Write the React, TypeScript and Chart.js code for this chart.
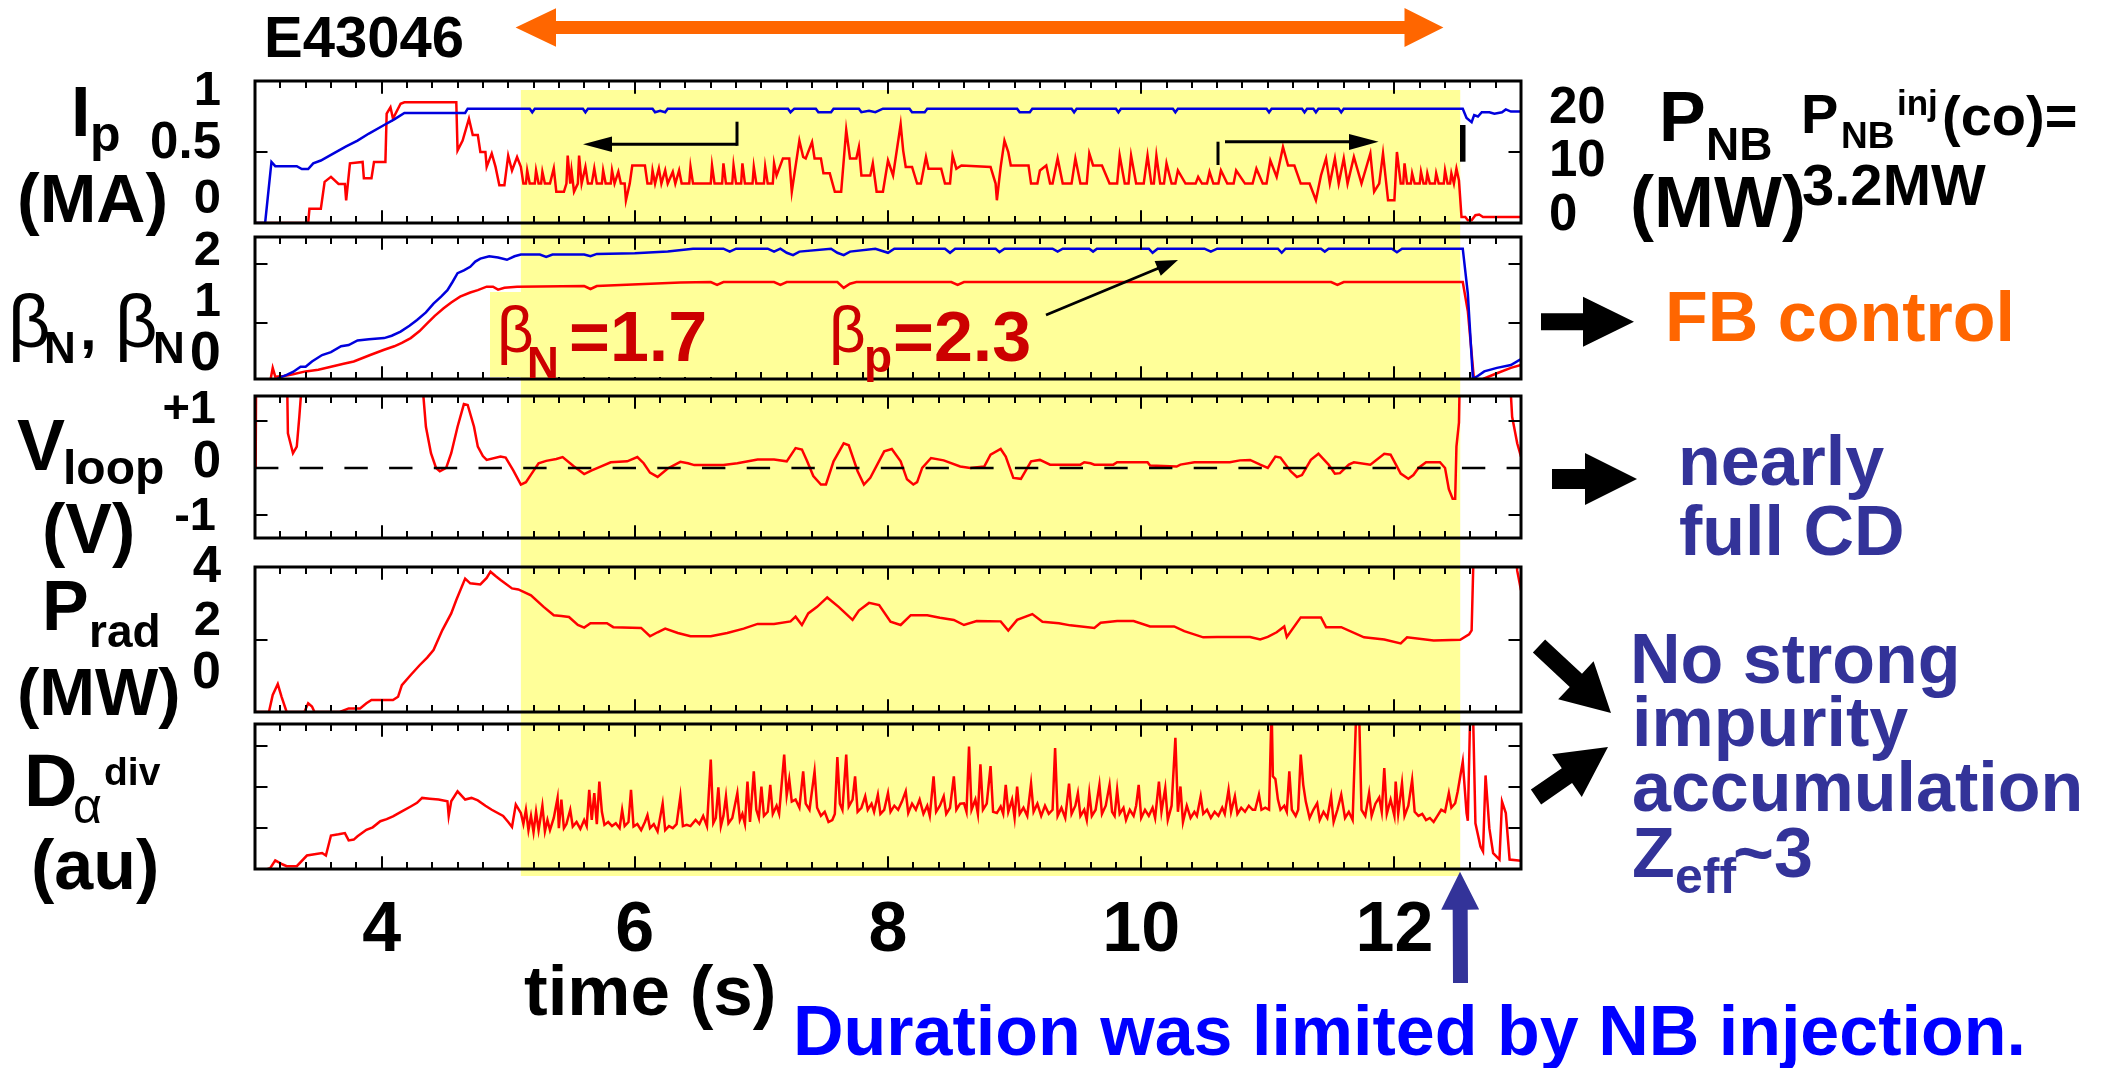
import React, { useEffect, useRef } from 'react';
import { Chart, registerables } from 'chart.js';
Chart.register(...registerables);

// ---------------- data ----------------
const T_MIN = 3;
const T_MAX = 13;
const X_TICK_LABELS = [4, 6, 8, 10, 12];
const NB_WINDOW = [5.1, 12.52]; // highlighted window (s)

// Ip (MA)
const IP_MA = [
  [3.0, 0], [3.08, 0], [3.13, 0.43], [3.16, 0.4], [3.33, 0.4], [3.37, 0.38], [3.42, 0.38], [3.46, 0.42], [3.52, 0.44],
  [3.6, 0.48], [3.66, 0.51], [3.72, 0.54], [3.81, 0.58], [3.9, 0.63], [4.02, 0.69], [4.1, 0.73], [4.18, 0.775],
  [4.66, 0.775], [4.68, 0.805], [5.17, 0.805], [5.19, 0.78], [5.21, 0.805], [5.59, 0.805], [5.61, 0.78], [5.63, 0.805],
  [6.14, 0.805], [6.16, 0.78], [6.2, 0.79], [6.24, 0.78], [6.26, 0.805], [7.21, 0.805], [7.23, 0.78], [7.26, 0.805],
  [7.43, 0.805], [7.45, 0.78], [7.55, 0.78], [7.57, 0.805], [7.77, 0.805], [7.79, 0.78], [7.85, 0.79], [7.9, 0.78],
  [7.96, 0.805], [8.17, 0.805], [8.19, 0.78], [8.29, 0.78], [8.31, 0.805], [9.02, 0.805], [9.04, 0.78], [9.12, 0.78],
  [9.14, 0.805], [9.45, 0.805], [9.47, 0.78], [9.49, 0.805], [9.8, 0.805], [9.82, 0.78], [9.84, 0.805], [10.25, 0.805],
  [10.27, 0.78], [10.29, 0.805], [10.99, 0.805], [11.01, 0.78], [11.03, 0.805], [11.27, 0.805], [11.29, 0.78],
  [11.31, 0.805], [11.36, 0.805], [11.38, 0.78], [11.4, 0.805], [11.56, 0.805], [11.58, 0.78], [11.6, 0.805],
  [12.54, 0.805], [12.57, 0.74], [12.61, 0.71], [12.63, 0.76], [12.66, 0.75], [12.69, 0.78], [12.75, 0.78],
  [12.79, 0.77], [12.85, 0.78], [12.88, 0.8], [12.92, 0.785], [13.0, 0.785],
];

// P_NB (MW)
const PNB_MW = [
  [3.0, 0], [3.42, 0], [3.43, 2.0], [3.52, 2.0], [3.55, 5.8], [3.6, 6.5], [3.66, 5.5], [3.71, 5.5], [3.72, 3.2],
  [3.75, 8.4], [3.85, 8.6], [3.86, 6.3], [3.92, 6.3], [3.94, 8.6], [4.03, 8.6], [4.04, 15.4], [4.07, 16.3], [4.09, 14.7],
  [4.15, 16.8], [4.18, 17.0], [4.59, 17.0], [4.6, 10.2], [4.64, 11.6], [4.69, 14.7], [4.72, 12.4], [4.76, 12.4],
  [4.78, 10.0], [4.82, 10.0], [4.83, 7.9], [4.87, 9.8], [4.9, 7.9], [4.93, 5.3], [4.97, 5.3], [5.0, 9.5], [5.03, 7.4],
  [5.07, 9.3], [5.1, 7.9], [5.12, 5.55],
  [5.14, 5.55], [5.15, 7.4], [5.17, 5.55], [5.21, 5.55], [5.22, 7.4], [5.24, 5.55], [5.26, 5.55], [5.27, 7.2], [5.29, 5.55],
  [5.33, 5.55], [5.36, 7.7], [5.38, 4.4], [5.44, 4.4], [5.46, 5.55], [5.47, 9.5], [5.49, 5.55], [5.5, 7.4], [5.52, 4.4],
  [5.55, 5.55], [5.56, 9.5], [5.58, 5.55], [5.61, 7.9], [5.63, 5.55], [5.66, 5.55], [5.68, 7.7], [5.7, 5.55], [5.74, 5.55],
  [5.75, 7.4], [5.77, 5.55], [5.81, 5.55], [5.82, 7.4], [5.84, 5.55], [5.87, 7.2], [5.89, 5.55], [5.92, 5.55], [5.93, 3.2],
  [5.96, 5.55], [5.98, 8.1], [6.08, 8.1], [6.1, 5.55], [6.13, 5.55], [6.14, 7.4], [6.16, 5.55], [6.19, 7.7], [6.21, 5.55],
  [6.24, 7.4], [6.26, 5.55], [6.3, 7.2], [6.32, 5.55], [6.35, 7.4], [6.37, 5.55], [6.43, 5.55], [6.44, 7.9], [6.46, 5.55],
  [6.52, 5.55], [6.6, 5.55], [6.61, 8.1], [6.63, 5.55], [6.69, 5.55], [6.7, 8.4], [6.72, 5.55], [6.77, 5.55], [6.78, 8.1],
  [6.8, 5.55], [6.84, 5.55], [6.85, 8.4], [6.87, 5.55], [6.93, 5.55], [6.94, 7.9], [6.96, 5.55], [7.02, 5.55], [7.03, 7.9],
  [7.05, 5.55], [7.09, 5.55], [7.1, 8.4], [7.12, 6.7], [7.17, 9.1], [7.22, 9.1], [7.24, 4.4], [7.3, 11.6], [7.33, 9.3],
  [7.35, 9.1], [7.4, 11.4], [7.42, 9.1], [7.47, 9.1], [7.49, 7.0], [7.54, 7.0], [7.58, 4.4], [7.63, 4.4], [7.67, 13.1],
  [7.7, 9.1], [7.75, 9.1], [7.77, 10.7], [7.79, 6.7], [7.86, 6.7], [7.88, 8.4], [7.91, 4.4], [7.96, 4.4], [8.0, 8.8],
  [8.04, 6.7], [8.1, 13.9], [8.12, 10.2], [8.14, 7.9], [8.19, 7.9], [8.23, 5.55], [8.26, 5.55], [8.3, 9.3], [8.32, 7.65],
  [8.42, 7.65], [8.45, 5.55], [8.49, 5.55], [8.51, 9.5], [8.54, 7.65], [8.58, 8.1], [8.81, 7.9], [8.85, 5.55], [8.86, 3.2],
  [8.89, 7.9], [8.92, 11.6], [8.95, 10.0], [8.97, 8.1], [9.11, 8.1], [9.13, 5.55], [9.18, 5.55], [9.2, 7.4], [9.25, 8.1],
  [9.28, 5.55], [9.3, 5.55], [9.34, 9.1], [9.38, 5.55], [9.45, 5.55], [9.48, 9.1], [9.52, 5.55], [9.57, 5.55], [9.59, 9.8],
  [9.62, 8.1], [9.69, 8.1], [9.75, 5.55], [9.81, 5.55], [9.83, 9.5], [9.87, 5.55], [9.9, 5.55], [9.92, 9.5], [9.96, 5.55],
  [10.02, 5.55], [10.05, 9.5], [10.08, 5.55], [10.1, 5.55], [10.12, 9.5], [10.15, 5.55], [10.18, 5.55], [10.2, 8.4],
  [10.24, 5.55], [10.27, 5.55], [10.29, 7.4], [10.35, 5.55], [10.43, 5.55], [10.45, 6.5], [10.48, 5.55], [10.52, 5.55],
  [10.54, 7.2], [10.57, 5.55], [10.61, 5.55], [10.63, 7.4], [10.68, 5.55], [10.73, 5.55], [10.75, 7.4], [10.82, 5.55],
  [10.88, 5.55], [10.91, 7.65], [10.96, 5.55], [10.99, 5.55], [11.02, 8.8], [11.07, 6.5], [11.12, 10.7], [11.16, 8.1],
  [11.21, 8.1], [11.26, 5.55], [11.33, 5.55], [11.38, 3.2], [11.42, 6.7], [11.46, 9.1], [11.49, 5.55], [11.53, 9.1],
  [11.56, 5.55], [11.6, 9.1], [11.63, 5.55], [11.68, 9.3], [11.74, 5.55], [11.81, 9.8], [11.84, 4.4], [11.88, 5.55],
  [11.91, 9.8], [11.95, 3.2], [12.0, 3.2], [12.02, 10.0], [12.05, 5.55], [12.07, 5.55], [12.08, 8.4], [12.1, 5.55],
  [12.13, 5.55], [12.14, 7.0], [12.16, 5.55], [12.2, 5.55], [12.21, 7.2], [12.23, 5.55], [12.25, 5.55], [12.26, 7.0],
  [12.28, 5.55], [12.32, 5.55], [12.33, 7.0], [12.35, 5.55], [12.39, 5.55], [12.4, 7.4], [12.42, 5.55], [12.44, 5.55],
  [12.45, 7.0], [12.47, 5.55], [12.49, 7.65], [12.51, 6.0], [12.53, 0.85], [12.56, 0.85], [12.58, 0.4], [12.61, 0.4],
  [12.64, 1.1], [12.67, 1.2], [12.7, 0.85], [13.0, 0.85],
];

// beta_p (blue) and beta_N (red)
const BETA_P = [
  [3.15, 0.0], [3.19, 0.06], [3.25, 0.11], [3.3, 0.16], [3.36, 0.25], [3.4, 0.25], [3.45, 0.34], [3.53, 0.45], [3.6, 0.5],
  [3.68, 0.6], [3.74, 0.62], [3.81, 0.7], [3.9, 0.72], [4.02, 0.74], [4.08, 0.78], [4.15, 0.85], [4.22, 0.95], [4.28, 1.05],
  [4.35, 1.18], [4.41, 1.33], [4.47, 1.45], [4.52, 1.56], [4.56, 1.7], [4.6, 1.85], [4.65, 1.9], [4.7, 1.96], [4.74, 2.05],
  [4.78, 2.1], [4.85, 2.14], [4.92, 2.12], [4.99, 2.08], [5.05, 2.14], [5.1, 2.17], [5.25, 2.17], [5.3, 2.13], [5.35, 2.17],
  [5.6, 2.17], [5.65, 2.14], [5.7, 2.18], [6.0, 2.19], [6.26, 2.22], [6.46, 2.27], [6.7, 2.27], [6.75, 2.22], [6.8, 2.27],
  [7.05, 2.27], [7.1, 2.22], [7.15, 2.27], [7.2, 2.2], [7.25, 2.16], [7.3, 2.22], [7.55, 2.27], [7.6, 2.2], [7.65, 2.16],
  [7.7, 2.22], [7.9, 2.27], [8.0, 2.2], [8.05, 2.27], [8.45, 2.27], [8.49, 2.2], [8.53, 2.27], [8.85, 2.27], [8.88, 2.21],
  [8.92, 2.27], [9.3, 2.27], [9.34, 2.22], [9.38, 2.27], [9.59, 2.27], [9.62, 2.22], [9.65, 2.27], [10.06, 2.27],
  [10.09, 2.2], [10.13, 2.27], [10.5, 2.27], [10.55, 2.22], [10.6, 2.27], [11.08, 2.27], [11.11, 2.2], [11.14, 2.27],
  [11.42, 2.27], [11.45, 2.22], [11.48, 2.27], [11.98, 2.27], [12.02, 2.21], [12.06, 2.27], [12.54, 2.27], [12.58, 1.5],
  [12.62, 0.05], [12.65, 0.08], [12.71, 0.17], [12.81, 0.23], [12.92, 0.28], [13.0, 0.38],
];
const BETA_N = [
  [3.12, 0.0], [3.14, 0.23], [3.16, 0.08], [3.23, 0.09], [3.3, 0.12], [3.4, 0.17], [3.5, 0.2], [3.6, 0.25], [3.7, 0.3],
  [3.78, 0.34], [3.85, 0.4], [3.91, 0.45], [4.02, 0.54], [4.1, 0.6], [4.16, 0.66], [4.23, 0.74], [4.3, 0.86], [4.36, 0.99],
  [4.42, 1.12], [4.49, 1.25], [4.55, 1.35], [4.62, 1.45], [4.7, 1.52], [4.76, 1.56], [4.83, 1.62], [4.88, 1.62],
  [4.92, 1.57], [4.97, 1.6], [5.07, 1.62], [5.6, 1.63], [5.65, 1.58], [5.7, 1.63], [6.36, 1.69], [6.6, 1.7], [6.65, 1.65],
  [6.7, 1.7], [7.1, 1.7], [7.15, 1.65], [7.2, 1.7], [7.6, 1.7], [7.65, 1.6], [7.7, 1.67], [7.75, 1.7], [8.5, 1.7],
  [8.55, 1.65], [8.6, 1.7], [10.5, 1.7], [11.5, 1.7], [11.55, 1.65], [11.6, 1.7], [12.54, 1.7], [12.58, 1.2], [12.63, 0.0],
  [12.7, 0.04], [12.8, 0.13], [12.92, 0.23], [13.0, 0.28],
];

// V_loop (V); values above the frame are off scale
const VLOOP_V = [
  [3.0, 2.5], [3.005, 0.0], [3.01, 2.5], [3.25, 2.5], [3.26, 0.73], [3.3, 0.31], [3.33, 0.45], [3.35, 1.08], [3.39, 2.5],
  [4.3, 2.5], [4.35, 0.87], [4.39, 0.31], [4.43, 0.0], [4.46, -0.07], [4.51, 0.0], [4.55, 0.31], [4.6, 0.87], [4.65, 1.35],
  [4.68, 1.33], [4.73, 0.87], [4.76, 0.45], [4.8, 0.25], [4.83, 0.17], [4.94, 0.24], [4.98, 0.22], [5.04, -0.05],
  [5.1, -0.35], [5.14, -0.3], [5.18, -0.14], [5.24, 0.1], [5.3, 0.15], [5.38, 0.19], [5.43, 0.23], [5.52, 0.03],
  [5.56, -0.05], [5.6, -0.13], [5.66, -0.05], [5.73, 0.03], [5.81, 0.12], [5.94, 0.14], [6.02, 0.23], [6.07, 0.1],
  [6.12, -0.1], [6.18, -0.19], [6.26, -0.01], [6.36, 0.13], [6.42, 0.1], [6.47, 0.06], [6.7, 0.06], [6.81, 0.1],
  [6.97, 0.18], [7.1, 0.18], [7.2, 0.14], [7.27, 0.42], [7.32, 0.39], [7.36, 0.15], [7.41, -0.17], [7.47, -0.35],
  [7.51, -0.35], [7.57, 0.14], [7.65, 0.52], [7.69, 0.48], [7.76, -0.07], [7.81, -0.35], [7.86, -0.21], [7.97, 0.35],
  [8.03, 0.4], [8.1, 0.14], [8.15, -0.24], [8.2, -0.35], [8.23, -0.3], [8.27, 0.0], [8.34, 0.21], [8.44, 0.16],
  [8.57, 0.03], [8.65, 0.0], [8.76, 0.03], [8.81, 0.28], [8.89, 0.4], [8.93, 0.24], [8.99, -0.21], [9.05, -0.23],
  [9.13, 0.14], [9.2, 0.17], [9.28, 0.07], [9.52, 0.07], [9.55, 0.12], [9.6, 0.1], [9.63, 0.07], [9.78, 0.07],
  [9.81, 0.12], [10.05, 0.12], [10.07, 0.05], [10.28, 0.03], [10.31, 0.07], [10.42, 0.12], [10.7, 0.12], [10.78, 0.16],
  [10.86, 0.17], [10.94, 0.07], [11.0, 0.0], [11.06, 0.24], [11.1, 0.22], [11.18, -0.07], [11.23, -0.19], [11.27, -0.15],
  [11.34, 0.17], [11.4, 0.3], [11.48, 0.07], [11.53, -0.12], [11.57, -0.11], [11.64, 0.07], [11.68, 0.12], [11.81, 0.07],
  [11.92, 0.3], [11.97, 0.28], [12.05, -0.12], [12.11, -0.23], [12.15, -0.15], [12.19, 0.0], [12.25, 0.12], [12.36, 0.12],
  [12.4, 0.0], [12.43, -0.45], [12.46, -0.65], [12.48, -0.65], [12.49, 0.45], [12.51, 0.96], [12.52, 2.5], [12.9, 2.5],
  [12.93, 1.08], [12.95, 0.8], [12.97, 0.52], [13.0, 0.24],
];
const VLOOP_ZERO = [[3, 0], [13, 0]];

// P_rad (MW)
const PRAD_MW = [
  [3.0, 0], [3.11, 0], [3.14, 0.47], [3.18, 0.77], [3.21, 0.42], [3.25, 0], [3.39, 0], [3.42, 0.24], [3.45, 0.15],
  [3.47, 0], [3.67, 0], [3.74, 0.1], [3.83, 0.1], [3.88, 0.24], [3.92, 0.33], [4.09, 0.33], [4.13, 0.42], [4.16, 0.74],
  [4.23, 1.02], [4.3, 1.29], [4.36, 1.5], [4.41, 1.71], [4.48, 2.26], [4.55, 2.72], [4.59, 3.09], [4.66, 3.68],
  [4.7, 3.55], [4.78, 3.52], [4.83, 3.7], [4.86, 3.87], [4.9, 3.75], [4.94, 3.64], [5.03, 3.41], [5.08, 3.38],
  [5.18, 3.22], [5.28, 2.9], [5.36, 2.67], [5.42, 2.65], [5.48, 2.62], [5.55, 2.4], [5.6, 2.33], [5.65, 2.45],
  [5.78, 2.45], [5.83, 2.34], [6.05, 2.32], [6.12, 2.09], [6.18, 2.2], [6.24, 2.3], [6.34, 2.18], [6.44, 2.09],
  [6.6, 2.09], [6.73, 2.18], [6.86, 2.3], [6.97, 2.43], [7.1, 2.43], [7.23, 2.5], [7.27, 2.63], [7.32, 2.4],
  [7.37, 2.72], [7.44, 2.9], [7.52, 3.16], [7.61, 2.9], [7.72, 2.54], [7.77, 2.8], [7.85, 3.01], [7.93, 2.95],
  [8.02, 2.49], [8.1, 2.4], [8.18, 2.67], [8.31, 2.67], [8.41, 2.6], [8.52, 2.54], [8.6, 2.4], [8.7, 2.51], [8.89, 2.5],
  [8.95, 2.25], [9.02, 2.54], [9.14, 2.7], [9.22, 2.49], [9.35, 2.45], [9.44, 2.39], [9.63, 2.32], [9.68, 2.46],
  [9.81, 2.51], [9.94, 2.51], [10.07, 2.36], [10.26, 2.36], [10.34, 2.23], [10.49, 2.06], [10.6, 2.07], [10.86, 2.07],
  [10.94, 2.0], [11.0, 2.07], [11.07, 2.2], [11.13, 2.36], [11.15, 2.07], [11.26, 2.61], [11.42, 2.61], [11.46, 2.34],
  [11.58, 2.34], [11.76, 2.06], [11.92, 2.0], [12.05, 1.89], [12.1, 2.06], [12.31, 1.97], [12.52, 1.99], [12.59, 2.14],
  [12.61, 2.25], [12.63, 5], [12.95, 5], [12.97, 3.9], [13.0, 3.36],
];

// D_alpha divertor (a.u.)
const DALPHA_AU = [
  [3.1, 0], [3.12, 0.02], [3.16, 0.21], [3.22, 0.11], [3.25, 0.07], [3.33, 0.07], [3.41, 0.33], [3.47, 0.36], [3.53, 0.39],
  [3.56, 0.33], [3.6, 0.82], [3.66, 0.85], [3.71, 0.88], [3.74, 0.7], [3.78, 0.72], [3.81, 0.8], [3.88, 0.96], [3.93, 1.02],
  [3.99, 1.17], [4.04, 1.22], [4.09, 1.29], [4.16, 1.41], [4.23, 1.53], [4.28, 1.62], [4.32, 1.74], [4.38, 1.72],
  [4.45, 1.7], [4.52, 1.66], [4.53, 1.3], [4.55, 1.66], [4.6, 1.9], [4.66, 1.7], [4.71, 1.74], [4.76, 1.68], [4.82, 1.55],
  [4.87, 1.45], [4.96, 1.3], [5.0, 1.15], [5.03, 1.03], [5.06, 1.58], [5.1, 1.37],
  [5.12, 1.1], [5.14, 1.45], [5.16, 0.95], [5.18, 1.3], [5.2, 0.9], [5.22, 1.4], [5.24, 0.95], [5.27, 1.55], [5.29, 0.92],
  [5.31, 1.2], [5.33, 0.95], [5.36, 1.25], [5.39, 1.74], [5.4, 1.0], [5.42, 1.7], [5.44, 1.0], [5.46, 1.1], [5.49, 1.45],
  [5.51, 1.04], [5.54, 1.15], [5.57, 0.98], [5.6, 1.2], [5.62, 1.05], [5.64, 1.94], [5.66, 1.2], [5.68, 1.86], [5.7, 1.1],
  [5.72, 2.14], [5.74, 1.4], [5.76, 1.08], [5.79, 1.15], [5.82, 1.05], [5.85, 1.12], [5.88, 1.0], [5.9, 1.45], [5.92, 1.05],
  [5.95, 1.15], [5.97, 1.94], [5.99, 1.04], [6.02, 1.1], [6.05, 0.95], [6.08, 1.15], [6.1, 1.32], [6.12, 1.0], [6.15, 1.1],
  [6.18, 0.92], [6.22, 1.6], [6.24, 0.95], [6.27, 1.05], [6.3, 1.0], [6.33, 1.1], [6.36, 1.78], [6.38, 1.05], [6.41, 1.08],
  [6.44, 1.05], [6.48, 1.2], [6.51, 1.1], [6.54, 1.3], [6.57, 1.05], [6.6, 2.68], [6.62, 1.12], [6.64, 1.25], [6.66, 2.0],
  [6.68, 1.05], [6.7, 1.3], [6.72, 1.78], [6.74, 1.12], [6.77, 1.25], [6.81, 1.86], [6.83, 1.2], [6.85, 1.35], [6.87, 1.1],
  [6.89, 2.14], [6.91, 1.15], [6.94, 2.39], [6.96, 1.45], [6.98, 1.25], [7.0, 2.02], [7.02, 1.3], [7.05, 1.4], [7.07, 2.06],
  [7.09, 1.35], [7.12, 1.55], [7.14, 1.35], [7.18, 2.8], [7.2, 1.8], [7.22, 2.2], [7.24, 1.65], [7.27, 1.7], [7.3, 1.5],
  [7.33, 2.39], [7.35, 1.6], [7.38, 1.45], [7.42, 2.39], [7.44, 1.5], [7.47, 1.3], [7.5, 1.4], [7.53, 1.15], [7.56, 1.2],
  [7.58, 1.35], [7.6, 2.74], [7.62, 1.6], [7.64, 1.45], [7.67, 2.8], [7.69, 1.53], [7.72, 1.7], [7.74, 2.27], [7.76, 1.4],
  [7.79, 1.5], [7.82, 1.78], [7.84, 1.45], [7.87, 1.6], [7.89, 1.4], [7.92, 1.82], [7.94, 1.35], [7.97, 1.45], [8.0, 1.86],
  [8.02, 1.4], [8.05, 1.55], [8.08, 1.45], [8.11, 1.65], [8.14, 1.9], [8.16, 1.37], [8.19, 1.6], [8.22, 1.45], [8.25, 1.7],
  [8.28, 1.35], [8.31, 1.55], [8.33, 1.3], [8.36, 2.27], [8.38, 1.4], [8.41, 1.55], [8.44, 1.78], [8.46, 1.35], [8.49, 1.5],
  [8.52, 2.27], [8.54, 1.45], [8.57, 1.6], [8.6, 1.61], [8.62, 1.4], [8.64, 3.0], [8.66, 1.45], [8.69, 1.7], [8.71, 1.35],
  [8.73, 2.56], [8.75, 1.45], [8.78, 1.6], [8.81, 2.52], [8.83, 1.4], [8.86, 1.37], [8.89, 1.53], [8.91, 1.35], [8.93, 2.06],
  [8.95, 1.4], [8.98, 1.7], [9.0, 1.25], [9.02, 2.02], [9.04, 1.35], [9.07, 1.5], [9.1, 1.3], [9.13, 2.09], [9.15, 1.4],
  [9.18, 1.6], [9.21, 1.3], [9.24, 1.55], [9.27, 1.35], [9.3, 1.45], [9.32, 2.96], [9.34, 1.3], [9.37, 1.5], [9.4, 1.25],
  [9.43, 2.09], [9.45, 1.35], [9.48, 1.55], [9.5, 1.86], [9.52, 1.3], [9.55, 1.45], [9.57, 1.2], [9.59, 1.86], [9.61, 1.3],
  [9.64, 1.45], [9.67, 2.06], [9.69, 1.35], [9.72, 1.55], [9.75, 2.06], [9.77, 1.4], [9.79, 1.3], [9.81, 1.94], [9.83, 1.35],
  [9.86, 1.5], [9.88, 1.2], [9.91, 1.45], [9.94, 1.3], [9.96, 1.55], [9.98, 2.06], [10.0, 1.25], [10.03, 1.45], [10.06, 1.3],
  [10.09, 1.5], [10.11, 1.25], [10.14, 2.14], [10.16, 1.4], [10.19, 1.98], [10.21, 1.2], [10.24, 1.55], [10.27, 3.21],
  [10.29, 1.4], [10.31, 2.02], [10.33, 1.15], [10.36, 1.55], [10.39, 1.25], [10.42, 1.4], [10.44, 1.3], [10.47, 1.78],
  [10.49, 1.35], [10.52, 1.45], [10.55, 1.25], [10.58, 1.4], [10.61, 1.3], [10.64, 1.5], [10.66, 1.35], [10.69, 1.94],
  [10.71, 1.4], [10.74, 1.78], [10.76, 1.35], [10.79, 1.5], [10.82, 1.4], [10.85, 1.55], [10.88, 1.45], [10.9, 1.45],
  [10.93, 1.82], [10.95, 1.45], [10.98, 1.5], [11.01, 1.45], [11.03, 4.0], [11.04, 2.27], [11.06, 2.2], [11.08, 1.7],
  [11.1, 1.45], [11.13, 1.55], [11.15, 1.4], [11.17, 2.39], [11.19, 1.45], [11.22, 1.3], [11.24, 1.45], [11.26, 2.8],
  [11.28, 2.06], [11.3, 1.65], [11.33, 1.25], [11.36, 1.45], [11.39, 1.61], [11.41, 1.2], [11.44, 1.4], [11.47, 1.25],
  [11.5, 1.78], [11.52, 1.15], [11.55, 1.45], [11.58, 1.82], [11.61, 1.25], [11.64, 1.4], [11.67, 1.2], [11.7, 4.0],
  [11.72, 4.0], [11.74, 1.45], [11.77, 1.3], [11.8, 1.86], [11.82, 1.3], [11.85, 1.6], [11.88, 1.75], [11.9, 1.4],
  [11.92, 2.47], [11.94, 1.35], [11.97, 1.7], [12.0, 1.3], [12.01, 2.14], [12.03, 1.35], [12.06, 2.1], [12.08, 1.3],
  [12.11, 1.55], [12.14, 2.18], [12.16, 1.4], [12.19, 1.3], [12.22, 1.35], [12.25, 1.2], [12.28, 1.25], [12.31, 1.15],
  [12.34, 1.3], [12.37, 1.45], [12.4, 1.4], [12.43, 1.86], [12.45, 1.5], [12.48, 1.61], [12.5, 1.9], [12.54, 2.63],
  [12.57, 1.37], [12.58, 1.18], [12.6, 4.0], [12.62, 4.0], [12.64, 1.12], [12.68, 0.55], [12.7, 0.43], [12.72, 2.29],
  [12.75, 1.0], [12.78, 0.39], [12.83, 0.23], [12.85, 1.65], [12.88, 1.37], [12.91, 0.23], [13.0, 0.2],
];

// ---------------- styling / layout ----------------
const RED = '#ff0000';
const BLUE = '#0000dd';
const YELLOW = '#ffff99';
const NAVY = '#333399';
const ORANGE = '#ff6600';
const DARKRED = '#cc0000';
const FONT = '"Liberation Sans", Arial, Helvetica, sans-serif';

const PL = 255; // plot left (px)
const PW = 1266; // plot width (px)
const PAD_X = 20;
const BAND_TOP = 90;
const BAND_BOTTOM = 876;
const LINE_W = 2.5;

const xToPx = (t: number) => PL + ((t - T_MIN) / (T_MAX - T_MIN)) * PW;

type Series = { data: number[][]; color: string; axis?: string; dash?: number[]; width?: number };
type Panel = {
  top: number; bottom: number; cTop: number; cBottom: number;
  y: [number, number]; y2?: [number, number]; yTicks: number[]; series: Series[];
};

const PANELS: Panel[] = [
  { top: 81, bottom: 223, cTop: 60, cBottom: 226, y: [0, 1], y2: [0, 20], yTicks: [0.5],
    series: [{ data: IP_MA, color: BLUE }, { data: PNB_MW, color: RED, axis: 'y2' }] },
  { top: 237, bottom: 379, cTop: 226, cBottom: 382, y: [0.04, 2.47], yTicks: [1, 2],
    series: [{ data: BETA_P, color: BLUE }, { data: BETA_N, color: RED }] },
  { top: 396, bottom: 538, cTop: 382, cBottom: 541, y: [-1.48, 1.52], yTicks: [-1, 1],
    series: [{ data: VLOOP_ZERO, color: '#000', dash: [23.4, 21.3], width: 2.5 }, { data: VLOOP_V, color: RED }] },
  { top: 567, bottom: 712, cTop: 541, cBottom: 715, y: [0, 4], yTicks: [2],
    series: [{ data: PRAD_MW, color: RED }] },
  { top: 724, bottom: 869, cTop: 715, cBottom: 880, y: [0, 3.55], yTicks: [1, 2, 3],
    series: [{ data: DALPHA_AU, color: RED }] },
];

function decoPlugin(p: Panel) {
  return {
    id: 'panelDeco',
    beforeDatasetsDraw(chart: any) {
      const { ctx } = chart;
      const xs = chart.scales.x;
      const x0 = xs.getPixelForValue(NB_WINDOW[0]);
      const x1 = xs.getPixelForValue(NB_WINDOW[1]);
      const yA = Math.max(0, BAND_TOP - p.cTop);
      const yB = Math.min(chart.height, BAND_BOTTOM - p.cTop);
      ctx.save();
      ctx.fillStyle = YELLOW;
      ctx.fillRect(x0, yA, x1 - x0, yB - yA);
      ctx.restore();
    },
    afterDatasetsDraw(chart: any) {
      const { ctx, chartArea: a } = chart;
      const xs = chart.scales.x;
      const ys = chart.scales.y;
      ctx.save();
      ctx.strokeStyle = '#000';
      ctx.lineWidth = 2;
      ctx.beginPath();
      for (let k = 1; k < 50; k++) {
        const t = T_MIN + k * 0.2;
        const len = k % 10 === 5 ? 12.7 : 7;
        const px = Math.round(xs.getPixelForValue(t));
        ctx.moveTo(px, a.top); ctx.lineTo(px, a.top + len);
        ctx.moveTo(px, a.bottom); ctx.lineTo(px, a.bottom - len);
      }
      p.yTicks.forEach((v) => {
        const py = Math.round(ys.getPixelForValue(v));
        ctx.moveTo(a.left, py); ctx.lineTo(a.left + 12.5, py);
        ctx.moveTo(a.right, py); ctx.lineTo(a.right - 12.5, py);
      });
      ctx.stroke();
      ctx.lineWidth = 3;
      ctx.strokeRect(a.left, a.top, a.right - a.left, a.bottom - a.top);
      ctx.restore();
    },
  };
}

function PanelChart({ p }: { p: Panel }) {
  const ref = useRef<HTMLCanvasElement>(null);
  const h = p.cBottom - p.cTop;
  useEffect(() => {
    const scales: any = {
      x: { type: 'linear', min: T_MIN, max: T_MAX, display: false },
      y: { type: 'linear', min: p.y[0], max: p.y[1], display: false },
    };
    if (p.y2) scales.y2 = { type: 'linear', min: p.y2[0], max: p.y2[1], display: false };
    const chart = new Chart(ref.current as HTMLCanvasElement, {
      type: 'line',
      data: {
        datasets: p.series.map((s) => ({
          data: s.data.map(([x, y]) => ({ x, y })),
          borderColor: s.color,
          borderWidth: s.width ?? LINE_W,
          borderDash: s.dash ?? [],
          borderJoinStyle: 'miter',
          pointRadius: 0,
          fill: false,
          tension: 0,
          yAxisID: s.axis ?? 'y',
        })),
      },
      options: {
        animation: false,
        responsive: false,
        maintainAspectRatio: false,
        devicePixelRatio: 1,
        events: [],
        layout: { padding: { left: PAD_X, right: PAD_X, top: p.top - p.cTop, bottom: p.cBottom - p.bottom } },
        plugins: { legend: { display: false }, tooltip: { enabled: false }, title: { display: false } },
        scales,
      },
      plugins: [decoPlugin(p)],
    } as any);
    return () => chart.destroy();
  }, []);
  return (
    <canvas
      ref={ref}
      width={PW + 2 * PAD_X}
      height={h}
      style={{ position: 'absolute', left: PL - PAD_X, top: p.cTop, width: PW + 2 * PAD_X, height: h }}
    />
  );
}

function T(props: { x: number; b: number; s: number; c?: string; w?: number; a?: string; children: any }) {
  const { x, b, s, c = '#000', w = 700, a = 'left', children } = props;
  return (
    <div
      style={{
        position: 'absolute', left: x, top: b - 0.8465 * s, fontSize: s, lineHeight: `${s}px`,
        color: c, fontWeight: w, fontFamily: FONT, whiteSpace: 'pre',
        transform: a === 'right' ? 'translateX(-100%)' : a === 'center' ? 'translateX(-50%)' : undefined,
      }}
    >
      {children}
    </div>
  );
}

function arrow(x0: number, y0: number, x1: number, y1: number, sw: number, hl: number, hw: number) {
  const dx = x1 - x0, dy = y1 - y0;
  const L = Math.hypot(dx, dy);
  const ux = dx / L, uy = dy / L;
  const px = -uy, py = ux;
  const bx = x1 - ux * hl, by = y1 - uy * hl;
  const pts = [
    [x0 + px * sw / 2, y0 + py * sw / 2], [bx + px * sw / 2, by + py * sw / 2], [bx + px * hw / 2, by + py * hw / 2],
    [x1, y1], [bx - px * hw / 2, by - py * hw / 2], [bx - px * sw / 2, by - py * sw / 2], [x0 - px * sw / 2, y0 - py * sw / 2],
  ];
  return pts.map((q) => q.join(',')).join(' ');
}

export default function App() {
  return (
    <div style={{ position: 'fixed', left: 0, top: 0, width: 2102, height: 1068, background: '#fff', overflow: 'hidden' }}>
      {PANELS.map((p, i) => <PanelChart key={i} p={p} />)}

      {/* beta_N label box */}
      <div style={{ position: 'absolute', left: 490, top: 292, width: 230, height: 85, background: YELLOW }} />

      <svg width={2102} height={1068} style={{ position: 'absolute', left: 0, top: 0 }}>
        {/* orange double arrow */}
        <polygon
          fill={ORANGE}
          points="515.6,27.5 556,8.3 556,21 1404.5,21 1404.5,8 1443.4,27.5 1404.5,47 1404.5,34 556,34 556,46.7"
        />
        {/* panel-1 annotation arrows */}
        <line x1={737} y1={121.7} x2={737} y2={145.8} stroke="#000" strokeWidth={3} />
        <line x1={737} y1={144.3} x2={605} y2={144.3} stroke="#000" strokeWidth={3} />
        <polygon fill="#000" points="583,144.3 612,136.5 612,152" />
        <line x1={1218} y1={141.7} x2={1218} y2={165} stroke="#000" strokeWidth={3} />
        <line x1={1225} y1={141.7} x2={1352} y2={141.7} stroke="#000" strokeWidth={3} />
        <polygon fill="#000" points="1378.6,141.7 1349,134 1349,150" />
        <rect x={1460} y={125} width={5.5} height={36.7} fill="#000" />
        {/* beta_p pointer */}
        <polygon fill="#000" points={arrow(1046, 315, 1178, 260, 2.8, 22, 16)} />
        {/* right side arrows */}
        <polygon fill="#000" points={arrow(1541, 321.7, 1634, 321.7, 17, 51, 50)} />
        <polygon fill="#000" points={arrow(1552, 479, 1637, 479, 20, 52, 52)} />
        <polygon fill="#000" points={arrow(1539, 646, 1611, 713, 18, 48, 52)} />
        <polygon fill="#000" points={arrow(1536, 797, 1608, 747, 18, 50, 52)} />
        <polygon fill={NAVY} points={arrow(1460.5, 983, 1460, 871.7, 15, 38, 38)} />
      </svg>

      {/* title */}
      <T x={264} b={56.7} s={58}>E43046</T>

      {/* panel 1 labels */}
      <T x={71} b={136.7} s={70}>I</T>
      <T x={90} b={151.7} s={50}>p</T>
      <T x={221} b={105} s={49} a="right">1</T>
      <T x={221} b={158.3} s={51} a="right">0.5</T>
      <T x={221} b={213} s={49} a="right">0</T>
      <T x={17} b={221.7} s={68}>(MA)</T>
      <T x={1549} b={123.3} s={51}>20</T>
      <T x={1549} b={176} s={51}>10</T>
      <T x={1549} b={230} s={51}>0</T>
      <T x={1659} b={141.7} s={70}>P</T>
      <T x={1706} b={160} s={46}>NB</T>
      <T x={1630} b={226.7} s={72}>(MW)</T>
      <T x={1801} b={133} s={56}>P</T>
      <T x={1841} b={148.3} s={37}>NB</T>
      <T x={1897} b={115} s={35}>inj</T>
      <T x={1942} b={135} s={56}>(co)=</T>
      <T x={1802} b={205} s={58}>3.2MW</T>

      {/* panel 2 labels */}
      <T x={8} b={348} s={74} w={400}>β</T>
      <T x={44} b={363} s={44}>N</T>
      <T x={80} b={350} s={60}>,</T>
      <T x={115} b={348} s={74} w={400}>β</T>
      <T x={153} b={363} s={44}>N</T>
      <T x={221} b={265} s={49} a="right">2</T>
      <T x={221} b={317} s={48} a="right">1</T>
      <T x={221} b={370} s={56} a="right">0</T>
      <T x={497} b={352} s={64} w={400} c={DARKRED}>β</T>
      <T x={527} b={378} s={44} c={DARKRED}>N</T>
      <T x={569} b={361.7} s={70} c={DARKRED}>=1.7</T>
      <T x={829} b={352} s={64} w={400} c={DARKRED}>β</T>
      <T x={864} b={372} s={46} c={DARKRED}>p</T>
      <T x={893} b={361.7} s={70} c={DARKRED}>=2.3</T>

      {/* panel 3 labels */}
      <T x={216} b={423} s={47} a="right">+1</T>
      <T x={221} b={477} s={51} a="right">0</T>
      <T x={216} b={530} s={47} a="right">-1</T>
      <T x={17} b={470} s={72}>V</T>
      <T x={63} b={485} s={48}>loop</T>
      <T x={42} b={553} s={70}>(V)</T>

      {/* panel 4 labels */}
      <T x={221} b={582} s={51} a="right">4</T>
      <T x={42} b={630} s={70}>P</T>
      <T x={89} b={647} s={46}>rad</T>
      <T x={221} b={635} s={49} a="right">2</T>
      <T x={221} b={688} s={52} a="right">0</T>
      <T x={17} b={715} s={67}>(MW)</T>

      {/* panel 5 labels */}
      <T x={24} b={807} s={74}>D</T>
      <T x={73} b={823} s={50} w={400}>α</T>
      <T x={104} b={785} s={39}>div</T>
      <T x={31} b={889} s={70}>(au)</T>

      {/* time axis */}
      {X_TICK_LABELS.map((t) => (
        <T key={t} x={xToPx(t)} b={951.7} s={70} a="center">{String(t)}</T>
      ))}
      <T x={524} b={1015} s={71}>time (s)</T>
      <T x={793} b={1055} s={70} c="#0000ff">Duration was limited by NB injection.</T>

      {/* right annotations */}
      <T x={1665} b={341} s={70} c={ORANGE}>FB control</T>
      <T x={1678} b={485} s={70} c={NAVY}>nearly</T>
      <T x={1679} b={555} s={70} c={NAVY}>full CD</T>
      <T x={1630} b={683} s={70} c={NAVY}>No strong</T>
      <T x={1632} b={746.7} s={70} c={NAVY}>impurity</T>
      <T x={1632} b={811.7} s={70} c={NAVY}>accumulation</T>
      <T x={1632} b={877} s={70} c={NAVY}>Z</T>
      <T x={1675} b={893} s={50} c={NAVY}>eff</T>
      <T x={1733} b={877} s={70} c={NAVY}>~3</T>
    </div>
  );
}
